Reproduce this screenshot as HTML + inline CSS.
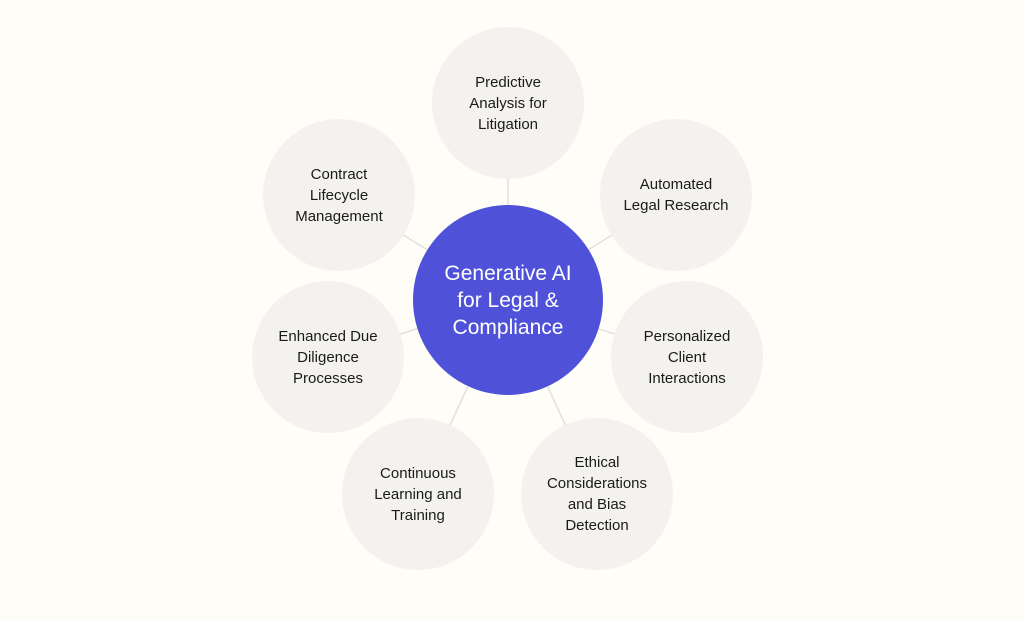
<!DOCTYPE html>
<html><head><meta charset="utf-8"><style>
body{margin:0;width:1024px;height:621px;background:#fefdf8;overflow:hidden;font-family:"Liberation Sans",sans-serif;}
.c{position:absolute;width:152px;height:152px;border-radius:50%;background:#f4f2ef;display:flex;align-items:center;justify-content:center;text-align:center;font-size:15px;line-height:21px;color:#1a1a1a;}
.m{position:absolute;left:413px;top:205px;width:190px;height:190px;border-radius:50%;background:#4f52d8;color:#fff;display:flex;align-items:center;justify-content:center;text-align:center;font-size:21px;line-height:27px;}
svg{position:absolute;left:0;top:0}
</style></head><body>
<svg width="1024" height="621"><g stroke="#e2e0dc" stroke-width="1.5">
<line x1="508" y1="300" x2="508" y2="103"/>
<line x1="508" y1="300" x2="676" y2="195"/>
<line x1="508" y1="300" x2="339" y2="195"/>
<line x1="508" y1="300" x2="687" y2="357"/>
<line x1="508" y1="300" x2="328" y2="357"/>
<line x1="508" y1="300" x2="597" y2="494"/>
<line x1="508" y1="300" x2="418" y2="494"/>
</g></svg>
<div class="c" style="left:432px;top:27px">Predictive<br>Analysis for<br>Litigation</div>
<div class="c" style="left:600px;top:119px">Automated<br>Legal Research</div>
<div class="c" style="left:263px;top:119px">Contract<br>Lifecycle<br>Management</div>
<div class="c" style="left:611px;top:281px">Personalized<br>Client<br>Interactions</div>
<div class="c" style="left:252px;top:281px">Enhanced Due<br>Diligence<br>Processes</div>
<div class="c" style="left:521px;top:418px">Ethical<br>Considerations<br>and Bias<br>Detection</div>
<div class="c" style="left:342px;top:418px">Continuous<br>Learning and<br>Training</div>
<div class="m">Generative AI<br>for Legal &amp;<br>Compliance</div>
</body></html>
